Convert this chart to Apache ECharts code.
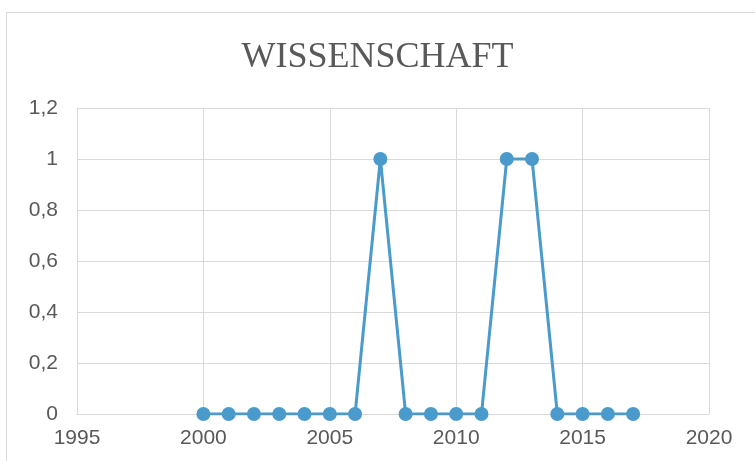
<!DOCTYPE html>
<html>
<head>
<meta charset="utf-8">
<script src="https://cdn.jsdelivr.net/npm/echarts@6/dist/echarts.min.js"></script>
<style>
html,body{margin:0;padding:0;background:#fff;}
#frame{position:absolute;left:6px;top:12px;width:800px;height:500px;border:1px solid #d9d9d9;box-sizing:border-box;}
#demo{position:absolute;left:0;top:0;width:755px;height:461px;}
</style>
</head>
<body>
<div id="frame"></div>
<div id="demo"></div>
<script>
// Jahre und Werte
var years = [2000,2001,2002,2003,2004,2005,2006,2007,2008,2009,2010,2011,2012,2013,2014,2015,2016,2017];
var values = [0,0,0,0,0,0,0,1,0,0,0,0,1,1,0,0,0,0];
var titleText = 'WISSENSCHAFT';

var mychar = echarts.init(document.getElementById('demo'));
var points = [];
for(var i=0;i<years.length;i++){
    points.push([years[i], values[i]]);
}
mychar.setOption({
    animation: false,
    title: {
        text: titleText,
        left: 'center',
        top: 35,
        textStyle: {
            fontFamily: 'Liberation Serif',
            fontWeight: 'normal',
            fontSize: 36,
            color: '#595959'
        }
    },
    grid: {
        left: 77,
        right: 46,
        top: 108,
        bottom: 47
    },
    xAxis: {
        type: 'value',
        min: 1995,
        max: 2020,
        interval: 5,
        axisLine: {show: true, lineStyle: {color: '#d9d9d9', width: 1}},
        axisTick: {show: false},
        splitLine: {show: true, lineStyle: {color: '#d9d9d9', width: 1}},
        axisLabel: {
            margin: 14,
            fontFamily: 'Liberation Sans',
            fontSize: 21,
            color: '#595959',
            formatter: function(v){ return String(v); }
        }
    },
    yAxis: {
        type: 'value',
        min: 0,
        max: 1.2,
        interval: 0.2,
        axisLine: {show: true, lineStyle: {color: '#d9d9d9', width: 1}},
        axisTick: {show: false},
        splitLine: {show: true, lineStyle: {color: '#d9d9d9', width: 1}},
        axisLabel: {
            margin: 19,
            fontFamily: 'Liberation Sans',
            fontSize: 21,
            color: '#595959',
            formatter: function(v){
                return String(Math.round(v*10)/10).replace('.', ',');
            }
        }
    },
    series: [{
        type: 'line',
        data: points,
        symbol: 'circle',
        symbolSize: 14,
        lineStyle: {color: '#4a9bcb', width: 3},
        itemStyle: {color: '#4a9bcb'}
    }]
});
</script>
</body>
</html>
